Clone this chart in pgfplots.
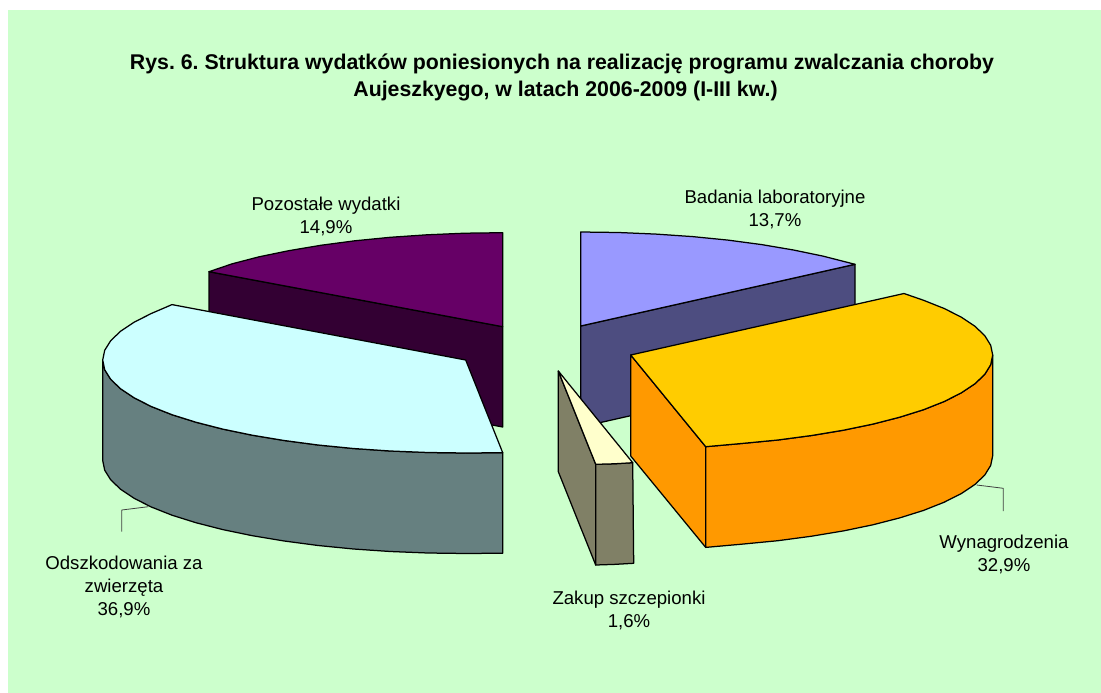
\documentclass[border=0pt]{standalone}
\usepackage{fontspec}
\setmainfont{Liberation Sans}
\usepackage{pgfplots}
\pgfplotsset{compat=1.18}
\frenchspacing
\definecolor{bgc}{HTML}{CCFFCC}
\definecolor{pur}{HTML}{660066}
\definecolor{purd}{HTML}{330033}
\definecolor{cya}{HTML}{CCFFFF}
\definecolor{cyad}{HTML}{668080}
\definecolor{yel}{HTML}{FFCC00}
\definecolor{yeld}{HTML}{FF9900}
\definecolor{per}{HTML}{9999FF}
\definecolor{perd}{HTML}{4D4D80}
\definecolor{lem}{HTML}{FFFFCC}
\definecolor{lemd}{HTML}{808066}
\newcommand{\lab}{\fontsize{18.6}{20}\selectfont}
\begin{document}
\begin{tikzpicture}
\begin{axis}[
  scale only axis, width=1101pt, height=693pt,
  xmin=0, xmax=1101, ymin=0, ymax=693, y dir=reverse,
  hide axis, clip=false,
  every axis plot/.append style={line join=round},
  piece/.style={draw=black, line width=1.25pt},
]
% page and panel
\addplot[draw=none, fill=white] coordinates {(0,0)(1101,0)(1101,693)(0,693)} -- cycle;
\addplot[draw=none, fill=bgc] coordinates {(8,10)(1101,10)(1101,693)(8,693)} -- cycle;
% Pozostale wydatki: wall
\addplot[piece, fill=purd] coordinates {(209,271.7)(502.7,326.7)(502.7,427)(209,372)} -- cycle;
% Pozostale wydatki: top
\addplot[piece, fill=pur] coordinates {(502.7,326.7)(502.7,232.7)(464.7,233.2)(427,234.8)(390.2,237.3)(354.7,240.8)(320.7,245.3)(288.7,250.7)(259.1,256.8)(232.2,263.8)(209,271.7)} -- cycle;
% Odszkodowania: wall
\addplot[piece, fill=cyad] coordinates {(502.7,452.7)(465.7,453)(427.8,452.5)(390.2,451)(353.5,448.5)(318.1,445)(284.2,440.5)(252.3,435.2)(222.8,429.1)(195.9,422.2)(172,414.7)(151.3,406.5)(134.1,397.8)(120.5,388.7)(110.7,379.3)(104.7,369.7)(102.7,360)(102.7,460.5)(104.7,470.2)(110.7,479.8)(120.5,489.2)(134.1,498.3)(151.3,507)(172,515.2)(195.9,522.7)(222.8,529.6)(252.3,535.7)(284.2,541)(318.1,545.5)(353.5,549)(390.2,551.5)(427.8,553)(465.7,553.5)(502.7,553.2)} -- cycle;
% Odszkodowania: top
\addplot[piece, fill=cya] coordinates {(465.7,360)(502.7,452.7)(465.7,453)(427.8,452.5)(390.2,451)(353.5,448.5)(318.1,445)(284.2,440.5)(252.3,435.2)(222.8,429.1)(195.9,422.2)(172,414.7)(151.3,406.5)(134.1,397.8)(120.5,388.7)(110.7,379.3)(104.7,369.7)(102.7,360)(104.7,350.3)(110.7,340.7)(120.5,331.3)(134.1,322.2)(151.3,313.5)(172,304.6)} -- cycle;
% Badania: wall
\addplot[piece, fill=perd] coordinates {(580.7,326)(855,264.3)(855,365)(580.7,427)} -- cycle;
% Badania: top
\addplot[piece, fill=per] coordinates {(580.7,326)(580.7,232)(618.5,232.5)(656,234.1)(692.6,236.6)(727.9,240.1)(761.7,244.6)(793.5,250)(822.9,256.1)(855,264.3)} -- cycle;
% Wynagrodzenia: inner wall
\addplot[piece, fill=yeld] coordinates {(630.7,355)(705.7,446.7)(705.7,547.4)(630.7,456)} -- cycle;
% Wynagrodzenia: outer wall
\addplot[piece, fill=yeld] coordinates {(992.7,355)(990.7,364.7)(984.8,374.3)(975,383.7)(961.4,392.8)(944.2,401.5)(923.6,409.7)(899.7,417.2)(872.9,424.1)(843.5,430.2)(811.7,435.5)(777.9,440)(742.6,443.4)(705.7,446.7)(705.7,547.4)(742.6,544.1)(777.9,540.7)(811.7,536.2)(843.5,530.9)(872.9,524.8)(899.7,517.9)(923.6,510.4)(944.2,502.2)(961.4,493.5)(975,484.4)(984.8,475)(990.7,465.4)(992.7,455.7)} -- cycle;
% Wynagrodzenia: top
\addplot[piece, fill=yel] coordinates {(630.7,355)(904,293.5)(923.6,300.3)(944.2,308.5)(961.4,317.2)(975,326.3)(984.8,335.7)(990.7,345.3)(992.7,355)(990.7,364.7)(984.8,374.3)(975,383.7)(961.4,392.8)(944.2,401.5)(923.6,409.7)(899.7,417.2)(872.9,424.1)(843.5,430.2)(811.7,435.5)(777.9,440)(742.6,443.4)(705.7,446.7)} -- cycle;
% Zakup: walls and top
\addplot[piece, fill=lemd] coordinates {(558.3,371)(595.7,464.3)(595.7,565)(558.3,471.7)} -- cycle;
\addplot[piece, fill=lemd] coordinates {(595.7,464.3)(614,463.8)(632.7,462.7)(633.7,563.3)(614,564.4)(595.7,565)} -- cycle;
\addplot[piece, fill=lem] coordinates {(558.3,371)(595.7,464.3)(614,463.8)(632.7,462.7)} -- cycle;
% leader lines
\addplot[draw=black!75, line width=0.8pt] coordinates {(148.3,506.7)(121.7,510)(121.7,531.7)};
\addplot[draw=black!75, line width=0.8pt] coordinates {(976.7,485)(1003.3,488.3)(1003.3,511)};
% text
\node[font=\fontsize{21.3}{27}\selectfont\bfseries] at (axis cs:562,64)
  {Rys. 6. Struktura wydatków poniesionych na realizację programu zwalczania choroby};
\node[font=\fontsize{21.3}{27}\selectfont\bfseries] at (axis cs:565.5,91)
  {Aujeszkyego, w latach 2006-2009 (I-III kw.)};
\node[align=center, font=\lab] at (axis cs:326,216) {Pozostałe wydatki\\[3pt]14,9\%};
\node[align=center, font=\lab] at (axis cs:775,209.5) {Badania laboratoryjne\\[3pt]13,7\%};
\node[align=center, font=\lab] at (axis cs:1004,554.5) {Wynagrodzenia\\[3pt]32,9\%};
\node[align=center, font=\lab] at (axis cs:629,610) {Zakup szczepionki\\[3pt]1,6\%};
\node[align=center, font=\lab] at (axis cs:124,586.5) {Odszkodowania za\\[3pt]zwierzęta\\[3pt]36,9\%};
\end{axis}
\end{tikzpicture}
\end{document}
